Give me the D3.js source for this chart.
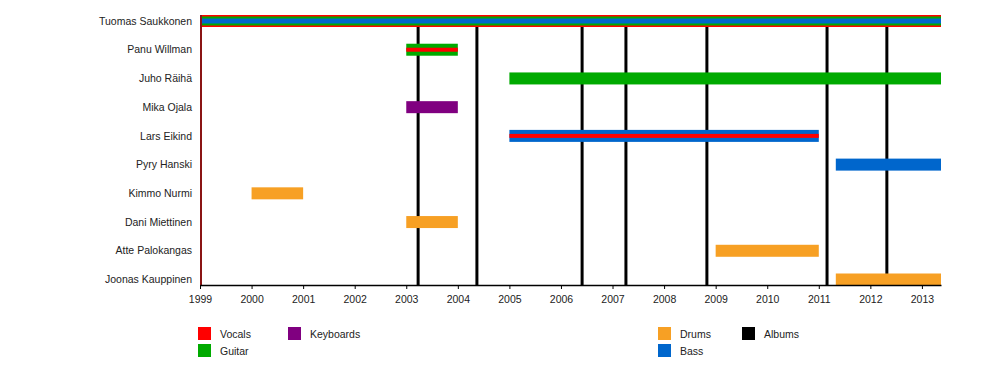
<!DOCTYPE html>
<html>
<head>
<meta charset="utf-8">
<script src="https://cdn.jsdelivr.net/npm/d3@7"></script>
<style>
  html, body { margin: 0; padding: 0; background: #fff; }
  svg { display: block; }
  text { font-family: "Liberation Sans", Arial, sans-serif; font-size: 10.5px; fill: #222; }
</style>
</head>
<body>
<svg id="chart" width="1000" height="365"></svg>
<script>
// ---------- data ----------
const members = ["Tuomas Saukkonen", "Panu Willman", "Juho Räihä", "Mika Ojala", "Lars Eikind",
                 "Pyry Hanski", "Kimmo Nurmi", "Dani Miettinen", "Atte Palokangas", "Joonas Kauppinen"];
const startYear = 1999;
const endYear = 2013.37;
const tickYears = [1999, 2000, 2001, 2002, 2003, 2004, 2005, 2006, 2007, 2008, 2009, 2010, 2011, 2012, 2013];

// [member, role, from, to]
const mainBars = [
  ["Tuomas Saukkonen", "Vocals", 1999, 2013.37],
  ["Panu Willman", "Guitar", 2003, 2004],
  ["Juho Räihä", "Guitar", 2005, 2013.37],
  ["Mika Ojala", "Keyboards", 2003, 2004],
  ["Lars Eikind", "Bass", 2005, 2011],
  ["Pyry Hanski", "Bass", 2011.33, 2013.37],
  ["Kimmo Nurmi", "Drums", 2000, 2001],
  ["Dani Miettinen", "Drums", 2003, 2004],
  ["Atte Palokangas", "Drums", 2009, 2011],
  ["Joonas Kauppinen", "Drums", 2011.33, 2013.37]
];
const tuomasBars = [
  ["Tuomas Saukkonen", "Guitar", 1999, 2013.37],
  ["Tuomas Saukkonen", "Bass", 1999, 2013.37]
];
const vocalStripes = [
  ["Panu Willman", "Vocals", 2003, 2004],
  ["Lars Eikind", "Vocals", 2005, 2011]
];
const albums = [2003.23, 2004.37, 2006.41, 2007.26, 2008.83, 2011.16, 2012.32];

const roles = ["Vocals", "Guitar", "Keyboards", "Drums", "Bass", "Albums"];
const roleColors = ["#ff0000", "#00aa00", "#800080", "#f7a024", "#0066cc", "#000000"];

// ---------- drawing ----------
const svg = d3.select("#chart");
const x = d3.scaleLinear().domain([startYear, endYear]).range([200, 941]);
const y = d3.scalePoint().domain(members).range([21, 279.5]);
const color = d3.scaleOrdinal().domain(roles).range(roleColors);
const axisY = 285;

// album lines
svg.append("g").selectAll("line").data(albums).join("line")
  .attr("x1", d => x(d)).attr("x2", d => x(d))
  .attr("y1", 27).attr("y2", axisY)
  .attr("stroke", "#000").attr("stroke-width", 3);

function drawBars(data, hs) {
  svg.append("g").selectAll("rect").data(data).join("rect")
    .attr("x", d => x(d[2]))
    .attr("width", d => x(d[3]) - x(d[2]))
    .attr("y", (d, i) => y(d[0]) - hs[i % hs.length] / 2)
    .attr("height", (d, i) => hs[i % hs.length])
    .attr("fill", d => color(d[1]));
}
drawBars(mainBars, [12]);
drawBars(tuomasBars, [9, 5]);
drawBars(vocalStripes, [4]);

// left vertical line (start)
svg.append("line")
  .attr("x1", x(startYear) + 1).attr("x2", x(startYear) + 1)
  .attr("y1", 15).attr("y2", axisY)
  .attr("stroke", "#8a1414").attr("stroke-width", 2);

// x axis
const axis = d3.axisBottom(x).tickValues(tickYears).tickFormat(d3.format("d")).tickSize(4).tickSizeOuter(0);
const ax = svg.append("g").attr("transform", `translate(0,${axisY})`).call(axis);
ax.select(".domain").attr("stroke", "#000").attr("stroke-width", 1.5);
ax.selectAll(".tick line").attr("stroke", "#000");
ax.selectAll(".tick text").attr("fill", "#222").attr("y", 9).attr("dy", "0.9em")
  .style("font-family", "Liberation Sans, Arial, sans-serif").style("font-size", "10.5px");

// member labels
svg.append("g").selectAll("text").data(members).join("text")
  .attr("x", 192).attr("y", d => y(d)).attr("dy", "0.35em")
  .attr("text-anchor", "end").text(d => d);

// legend
const legendPos = {
  Vocals: [198, 327], Guitar: [198, 344], Keyboards: [288, 327],
  Drums: [658, 327], Bass: [658, 344], Albums: [742, 327]
};
const lg = svg.append("g").selectAll("g").data(roles).join("g")
  .attr("transform", d => `translate(${legendPos[d][0]},${legendPos[d][1]})`);
lg.append("rect").attr("width", 13).attr("height", 13).attr("fill", d => color(d));
lg.append("text").attr("x", 22).attr("y", 7.5).attr("dy", "0.35em").text(d => d);
</script>
</body>
</html>
